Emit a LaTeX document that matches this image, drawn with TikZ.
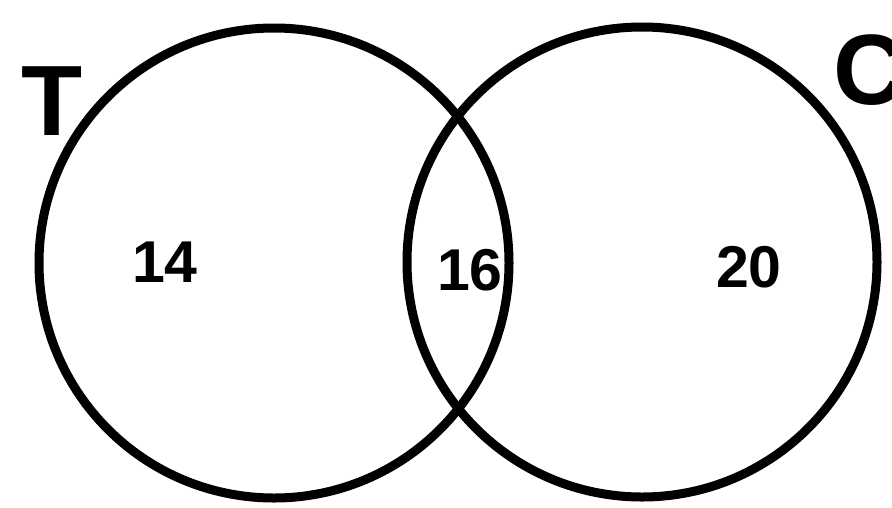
\documentclass[tikz,border=0pt]{standalone}
\usepackage{fontspec}
\setmainfont{Liberation Sans}
\begin{document}
\begin{tikzpicture}[x=1pt,y=-1pt,
  ring/.style={draw=black,line width=9pt},
  setlabel/.style={inner sep=0pt,anchor=base,font=\fontsize{100}{100}\selectfont\bfseries},
  count/.style={inner sep=0pt,anchor=base,font=\fontsize{59}{59}\selectfont\bfseries}]
\useasboundingbox[fill=white] (0,0) rectangle (892,507);
\node[ring,circle,minimum size=470pt,inner sep=0pt] (T) at (274,263) {};
\node[ring,circle,minimum size=470pt,inner sep=0pt] (C) at (642,262) {};
\node[setlabel] (tl) at (52,135) {T};
\node[setlabel] (cl) at (870,104) {C};
\node[count] (n14) at (165,282) {14};
\node[count] (n16) at (470,290) {16};
\node[count] (n20) at (749,287) {20};
\end{tikzpicture}
\end{document}
